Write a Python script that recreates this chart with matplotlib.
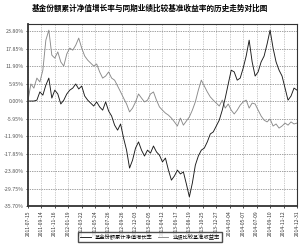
import numpy as np
import matplotlib
matplotlib.use("Agg")
import matplotlib.pyplot as plt

plt.rcParams['font.family'] = ['Noto Sans CJK SC', 'DejaVu Sans']
plt.rcParams['axes.unicode_minus'] = False

# values in %, sampled left to right
fund = [0.0, 0.0, 0.0, 0.3, 3.1, 2.0, 5.4, 7.8, 1.0, 3.7, 2.4, -1.0, 0.3, 2.4, 3.7, 4.4,
        5.8, 4.1, 5.1, 1.7, 0.3, -0.7, -1.7, -0.3, -2.0, -3.1, -0.3, -3.4, -5.1, -8.2,
        -9.9, -7.8, -12.6, -16.7, -22.8, -20.1, -16.0, -13.9, -16.7, -18.7, -16.7, -17.7,
        -15.3, -17.3, -18.4, -20.7, -19.4, -23.5, -26.9, -25.5, -23.5, -24.8, -24.1, -28.2,
        -32.6, -27.9, -21.8, -18.7, -16.7, -16.0, -13.9, -11.2, -10.5, -8.5, -6.5, -3.1,
        1.0, 5.8, 10.5, 9.9, 7.1, 7.8, 11.2, 15.3, 20.7, 13.3, 8.5, 9.9, 13.3, 15.3, 19.4,
        24.1, 18.0, 13.3, 10.5, 8.5, 4.4, 0.3, 1.7, 4.4, 3.7]
bench = [0.0, 5.8, 4.4, 7.8, 6.5, 10.5, 20.7, 24.1, 15.6, 14.6, 16.7, 13.3, 11.9, 16.0,
         18.0, 17.3, 19.0, 21.4, 18.0, 15.3, 13.9, 12.9, 11.9, 12.6, 9.9, 7.8, 8.5, 9.9,
         7.8, 7.1, 5.1, 3.1, 1.0, -1.0, -3.7, -2.4, -0.3, 2.4, 1.0, -0.3, 0.3, 2.4, 3.1,
         0.3, -2.0, -3.1, -4.1, -4.8, -5.8, -7.1, -8.5, -5.8, -8.2, -6.8, -5.4, -3.1, -0.3,
         3.7, 7.1, 5.1, 3.1, 1.4, 0.3, -0.7, -1.7, 0.3, -2.4, -1.0, -3.1, -4.4, -3.1, -1.4,
         -0.3, 0.3, -2.4, -0.7, -1.0, -3.1, -5.1, -6.5, -7.1, -6.1, -8.5, -7.8, -9.2, -8.5,
         -7.5, -8.2, -7.1, -7.8, -7.5]
dates = ['2011-07-15', '2011-09-14', '2011-11-16', '2012-01-19', '2012-03-22',
         '2012-05-24', '2012-07-26', '2012-09-26', '2012-12-03', '2013-02-05',
         '2013-04-12', '2013-06-17', '2013-08-19', '2013-10-25', '2013-12-27',
         '2014-03-04', '2014-05-07', '2014-07-09', '2014-09-10', '2014-11-12',
         '2014-12-31']
yticks = [23.80, 17.85, 11.90, 5.95, 0.00, -5.95, -11.90, -17.85, -23.80, -29.75, -35.70]

fig = plt.figure(figsize=(3, 2.5), dpi=100)
ax = fig.add_axes([0.093, 0.176, 0.897, 0.728])

x = np.arange(len(fund))
ax.plot(x, bench, color='#8a8a8a', lw=0.65, label='业绩比较基准收益率')
ax.plot(x, fund, color='#1a1a1a', lw=0.65, label='基金份额累计净值增长率')

ax.set_xlim(0, len(fund) - 1)
ax.set_ylim(-35.70, 26.2)
ax.set_yticks(yticks)
ax.set_yticklabels(['%.2f%%' % v for v in yticks], fontsize=3.8, color='#555555')
xt = np.linspace(0, len(fund) - 1, len(dates))
ax.set_xticks(xt)
ax.set_xticklabels(dates, rotation=90, fontsize=3.6, color='#333333')
ax.tick_params(length=1.5, width=0.5, pad=1.5)
ax.grid(True, axis='y', color='#444444', lw=0.5, linestyle=(0, (1, 1.5)))
ax.grid(True, axis='x', color='#999999', lw=0.5, linestyle=(0, (1, 1.5)))
for s in ax.spines.values():
    s.set_linewidth(0.8)
    s.set_color('#333333')
ax.spines['left'].set_linewidth(1.3)
ax.spines['bottom'].set_linewidth(1.3)

fig.suptitle('基金份额累计净值增长率与同期业绩比较基准收益率的历史走势对比图',
             fontsize=5.5, y=0.985, fontweight='bold')

h, l = ax.get_legend_handles_labels()
fig.legend(h[::-1], l[::-1], loc='lower center', bbox_to_anchor=(0.5, 0.02), ncol=2,
           fontsize=3.8, frameon=True, fancybox=False, edgecolor='#222222',
           handlelength=2, columnspacing=1.0, borderpad=0.4)

fig.savefig('out.png', dpi=100)
